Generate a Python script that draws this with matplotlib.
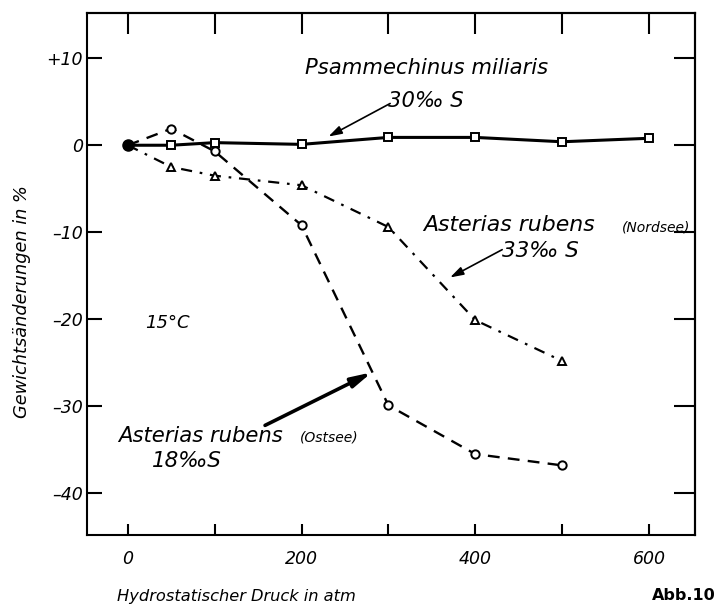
import matplotlib
matplotlib.use("Agg")
import matplotlib.pyplot as plt

# Hydrostatic pressure (atm) and weight change (%)
pressure = [0, 50, 100, 200, 300, 400, 500, 600]
psammechinus = [0.0, 0.0, 0.3, 0.1, 0.9, 0.9, 0.4, 0.8]

pressure_ar = [0, 50, 100, 200, 300, 400, 500]
asterias_ostsee = [0.0, 1.9, -0.7, -9.2, -29.9, -35.5, -36.8]
asterias_nordsee = [0.0, -2.5, -3.5, -4.6, -9.4, -20.1, -24.8]

x_ticks = [0, 100, 200, 300, 400, 500, 600]
x_ticklabels = ["0", "", "200", "", "400", "", "600"]
y_ticks = [10, 0, -10, -20, -30, -40]
y_ticklabels = ["+10", "0", "\u201310", "\u201320", "\u201330", "\u201340"]

plt.rcParams["font.family"] = ["DejaVu Sans"]

W, H = 717, 614
fig = plt.figure(figsize=(W / 100, H / 100), dpi=100)
ax = fig.add_axes([87 / W, 1 - 535 / H, (695 - 87) / W, (535 - 13) / H])

ax.set_xlim(-47, 653)
ax.set_ylim(-44.8, 15.2)

for s in ax.spines.values():
    s.set_linewidth(1.5)

# series (the common starting point is drawn separately as a filled dot)
mk = dict(markerfacecolor="white", markeredgecolor="black", markeredgewidth=1.4,
          color="black", zorder=3, markevery=slice(1, None))
ax.plot(pressure, psammechinus, linestyle="-", lw=2.2, marker="s", markersize=6, **mk)
ax.plot(pressure_ar, asterias_ostsee, linestyle=(0, (5, 3.5)), lw=1.7, marker="o",
        markersize=6, **mk)
ax.plot(pressure_ar, asterias_nordsee, linestyle=(0, (5, 3.5, 1.2, 3.5)), lw=1.6,
        marker="^", markersize=6, **mk)
ax.plot([0], [0], marker="o", markersize=8, color="black", zorder=4)

# ticks
ax.set_xticks(x_ticks)
ax.set_xticklabels(x_ticklabels)
ax.set_yticks(y_ticks)
ax.set_yticklabels(y_ticklabels)
ax.tick_params(axis="x", direction="in", length=8, width=1.5, pad=11,
               labelsize=12.5, top=False)
ax.tick_params(axis="y", direction="in", length=11, width=1.5, pad=3,
               labelsize=12.5, right=False)
for lab in ax.get_xticklabels() + ax.get_yticklabels():
    lab.set_style("italic")

sx = ax.secondary_xaxis("top")
sx.set_xticks(x_ticks)
sx.tick_params(direction="in", length=15, width=1.5, labeltop=False)
sx.spines["top"].set_linewidth(1.5)
sy = ax.secondary_yaxis("right")
sy.set_yticks(y_ticks)
sy.tick_params(direction="in", length=15, width=1.5, labelright=False)
sy.spines["right"].set_linewidth(1.5)

# annotations
it = dict(style="italic", color="black")
ax.text(204, 8.2, "Psammechinus miliaris", fontsize=15.2, va="baseline", **it)
ax.text(299, 4.4, "30\u2030 S", fontsize=15.2, va="baseline", **it)
ax.annotate("", xy=(231, 1.0), xytext=(302, 4.8),
            arrowprops=dict(arrowstyle="-|>,head_length=0.8,head_width=0.25",
                            lw=1.2, color="black", shrinkA=0, shrinkB=0))

ax.text(340, -9.9, "Asterias rubens", fontsize=15.8, va="baseline", **it)
ax.text(569, -9.9, "(Nordsee)", fontsize=10, va="baseline", **it)
ax.text(431, -12.9, "33\u2030 S", fontsize=15.5, va="baseline", **it)
ax.annotate("", xy=(371, -15.2), xytext=(431, -12.0),
            arrowprops=dict(arrowstyle="-|>,head_length=0.8,head_width=0.25",
                            lw=1.2, color="black", shrinkA=0, shrinkB=0))

ax.text(20, -21.0, "15\u00b0C", fontsize=13, va="baseline", **it)

ax.text(-11.5, -34.1, "Asterias rubens", fontsize=15.2, va="baseline", **it)
ax.text(198, -34.1, "(Ostsee)", fontsize=10, va="baseline", **it)
ax.text(27.6, -37.0, "18\u2030S", fontsize=15.5, va="baseline", **it)
ax.annotate("", xy=(281, -26.1), xytext=(158, -32.2),
            arrowprops=dict(arrowstyle="-|>,head_length=1.2,head_width=0.3",
                            lw=2.6, color="black", shrinkA=0, shrinkB=0))

# axis titles
fig.text(22 / W, 1 - 302 / H, "Gewichtsänderungen in %", rotation=90, fontsize=12.8,
         ha="center", va="center", **it)
fig.text(117 / W, 1 - 596 / H, "Hydrostatischer Druck in atm", fontsize=11.7,
         ha="left", va="center", **it)
fig.text(716 / W, 1 - 596 / H, "Abb.10", fontsize=11.5, ha="right", va="center",
         weight="bold", color="black")

fig.savefig("out.png", dpi=100)
